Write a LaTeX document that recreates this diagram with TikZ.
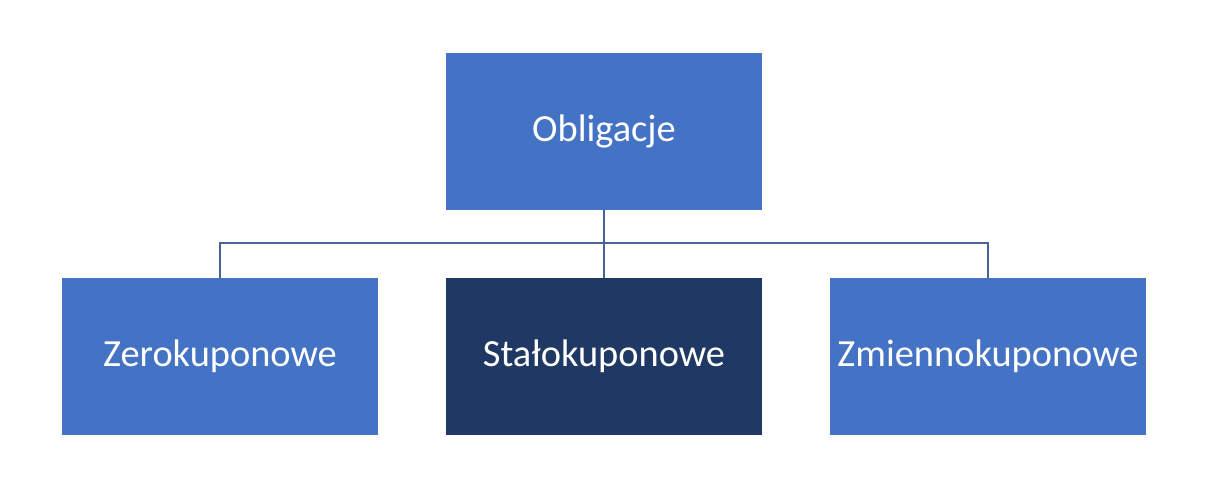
\documentclass[tikz,border=0pt]{standalone}
\usepackage{fontspec}
\setmainfont{Carlito}
\definecolor{boxblue}{HTML}{4472C4}
\definecolor{boxdark}{HTML}{203864}
\definecolor{linecol}{HTML}{4A6396}
\begin{document}
\begin{tikzpicture}[x=1pt,y=-1pt,
  box/.style={draw=none,fill=boxblue,minimum width=316pt,minimum height=157pt,inner sep=0pt,
    text=white,font=\fontsize{38.4}{46}\selectfont},
  conn/.style={draw=linecol,line width=1.2pt}]
\useasboundingbox (0,0) rectangle (1229,501);
\node[box] (top) at (604,131) {Obligacje};
\node[box] (zero) at (220,356.5) {Zerokuponowe};
\node[box,fill=boxdark] (stal) at (604,356.5) {Stałokuponowe};
\node[box] (zmien) at (988,356.5) {Zmiennokuponowe};
\coordinate (bus) at (604,243);
\draw[conn] (top.south) -- (bus);
\draw[conn] (zero.north) |- (bus) -| (zmien.north);
\draw[conn] (bus) -- (stal.north);
\end{tikzpicture}
\end{document}
